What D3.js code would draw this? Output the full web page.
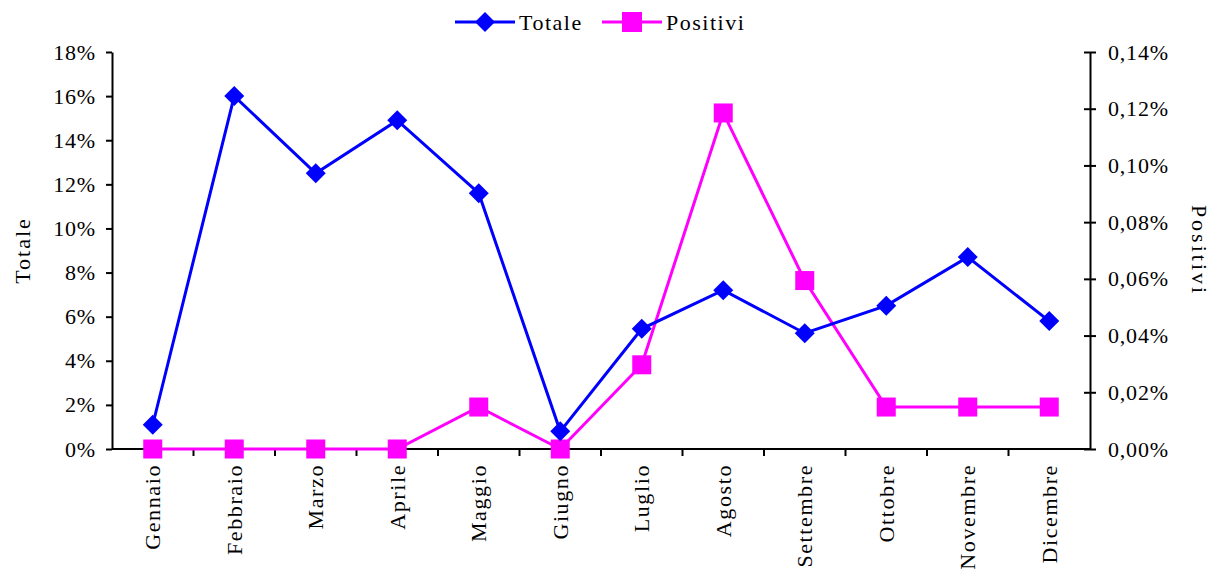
<!DOCTYPE html>
<html>
<head>
<meta charset="utf-8">
<script src="https://cdn.jsdelivr.net/npm/d3@7"></script>
<style>
  body { margin: 0; background: #fff; }
  svg { display: block; font-family: "Liberation Serif", "DejaVu Serif", serif; }
</style>
</head>
<body>
<svg id="chart" width="1218" height="573"></svg>
<script>
const months = ['Gennaio', 'Febbraio', 'Marzo', 'Aprile', 'Maggio', 'Giugno',
  'Luglio', 'Agosto', 'Settembre', 'Ottobre', 'Novembre', 'Dicembre'];
const totale = [1.1, 16.0, 12.5, 14.9, 11.6, 0.8, 5.45, 7.2, 5.25, 6.5, 8.7, 5.8];
const positivi = [0, 0, 0, 0, 0.0148, 0, 0.0297, 0.1185, 0.0594, 0.0148, 0.0148, 0.0148];
const leftTicks = [0, 2, 4, 6, 8, 10, 12, 14, 16, 18];
const rightTicks = [0, 0.02, 0.04, 0.06, 0.08, 0.10, 0.12, 0.14];

const svg = d3.select('#chart');
const plotL = 112, plotR = 1090, plotT = 52, plotB = 449;

const x = d3.scaleBand().domain(months).range([plotL, plotR]);
const yL = d3.scaleLinear().domain([0, 18]).range([plotB, plotT]);
const yR = d3.scaleLinear().domain([0, 0.14]).range([plotB, plotT]);

const fmtL = d => d + '%';
const fmtR = d => d.toFixed(2).replace('.', ',') + '%';

// left axis
const gL = svg.append('g')
  .attr('transform', `translate(${plotL},0)`)
  .call(d3.axisLeft(yL).tickValues(leftTicks).tickFormat(fmtL).tickSize(6).tickSizeOuter(0).tickPadding(10));

// right axis (ticks cross the line)
const gR = svg.append('g')
  .attr('transform', `translate(${plotR},0)`)
  .call(d3.axisRight(yR).tickValues(rightTicks).tickFormat(fmtR).tickSize(6).tickSizeOuter(0).tickPadding(12));
gR.selectAll('.tick line').attr('x1', -6).attr('x2', 6);

// bottom axis, ticks between categories
const gB = svg.append('g')
  .attr('transform', `translate(0,${plotB})`)
  .call(d3.axisBottom(x).tickSize(0).tickPadding(0));
gB.select('.domain').remove();
svg.append('line')
  .attr('x1', plotL).attr('x2', plotR).attr('y1', plotB).attr('y2', plotB)
  .attr('stroke', '#000').attr('stroke-width', 2);
svg.append('g').selectAll('line')
  .data(months.slice(1))
  .join('line')
  .attr('x1', d => x(d)).attr('x2', d => x(d))
  .attr('y1', plotB).attr('y2', plotB + 7)
  .attr('stroke', '#000').attr('stroke-width', 2);

[gL, gR, gB].forEach(g => {
  g.selectAll('.domain').attr('stroke', '#000').attr('stroke-width', 2);
  g.selectAll('.tick line').attr('stroke', '#000').attr('stroke-width', 2);
  g.selectAll('text').attr('font-size', 22).attr('fill', '#000')
    .attr('letter-spacing', 0.8)
    .attr('font-family', '"Liberation Serif", serif');
});
gB.selectAll('.tick text')
  .attr('transform', 'rotate(-90)')
  .attr('text-anchor', 'end')
  .attr('dy', '0.35em')
  .attr('x', -15)
  .attr('y', 0)
  .attr('letter-spacing', 1.6);

// axis titles
svg.append('text')
  .attr('transform', `translate(30,${(plotT + plotB) / 2}) rotate(-90)`)
  .attr('text-anchor', 'middle')
  .attr('font-size', 22)
  .attr('letter-spacing', 2)
  .text('Totale');
svg.append('text')
  .attr('transform', `translate(1192,${(plotT + plotB) / 2}) rotate(90)`)
  .attr('text-anchor', 'middle')
  .attr('font-size', 22)
  .attr('letter-spacing', 3)
  .text('Positivi');

const cx = d => x(d) + x.bandwidth() / 2;

// Positivi line (drawn first, Totale on top)
svg.append('path')
  .datum(positivi)
  .attr('fill', 'none').attr('stroke', '#ff00ff').attr('stroke-width', 3)
  .attr('d', d3.line().x((d, i) => cx(months[i])).y(d => yR(d)));
svg.append('g').selectAll('rect')
  .data(positivi)
  .join('rect')
  .attr('x', (d, i) => cx(months[i]) - 9.5)
  .attr('y', d => yR(d) - 9.5)
  .attr('width', 19).attr('height', 19)
  .attr('fill', '#ff00ff');

// Totale line
svg.append('path')
  .datum(totale)
  .attr('fill', 'none').attr('stroke', '#0000ff').attr('stroke-width', 3)
  .attr('d', d3.line().x((d, i) => cx(months[i])).y(d => yL(d)));
const diamond = 'M0,-10L10,0L0,10L-10,0Z';
svg.append('g').selectAll('path')
  .data(totale)
  .join('path')
  .attr('transform', (d, i) => `translate(${cx(months[i])},${yL(d)})`)
  .attr('d', diamond)
  .attr('fill', '#0000ff');

// legend
const legend = [
  { name: 'Totale', color: '#0000ff', x0: 455, mark: 'diamond' },
  { name: 'Positivi', color: '#ff00ff', x0: 602, mark: 'square' }
];
const lg = svg.append('g').selectAll('g').data(legend).join('g')
  .attr('transform', d => `translate(${d.x0},22)`);
lg.append('line')
  .attr('x1', 0).attr('x2', 60).attr('y1', 0).attr('y2', 0)
  .attr('stroke', d => d.color).attr('stroke-width', 3);
lg.append('path')
  .attr('transform', 'translate(30,0)')
  .attr('d', d => d.mark === 'diamond' ? diamond : 'M-10,-10H10V10H-10Z')
  .attr('fill', d => d.color);
lg.append('text')
  .attr('x', 64).attr('y', 0).attr('dy', '0.35em')
  .attr('font-size', 22)
  .attr('letter-spacing', 1.5)
  .text(d => d.name);
</script>
</body>
</html>
